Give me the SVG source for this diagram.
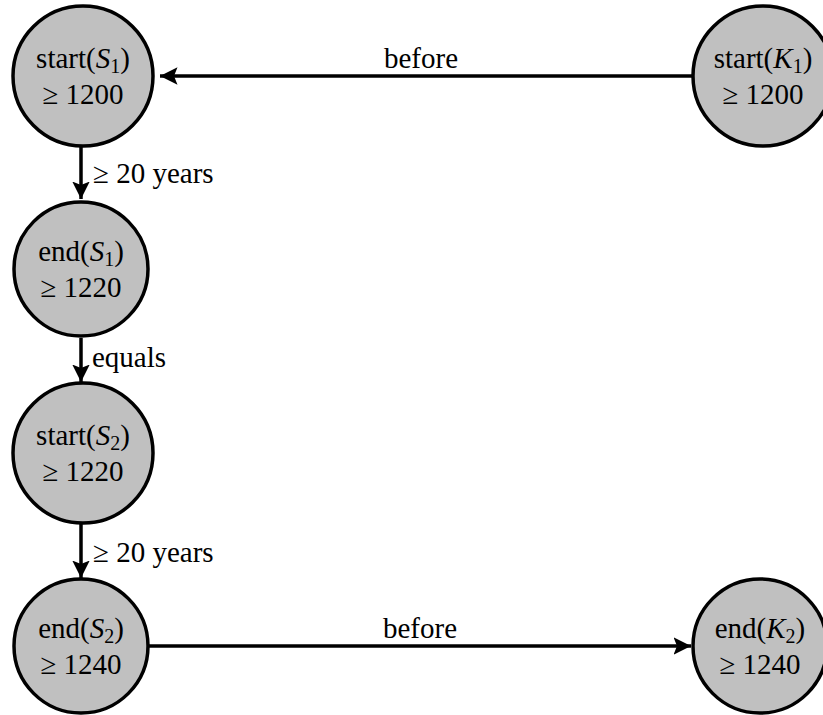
<svg xmlns="http://www.w3.org/2000/svg" width="823" height="715" viewBox="0 0 823 715">
<style>
.node circle{fill:#c0c0c0;stroke:#000;stroke-width:3.5}
text{font-family:"Liberation Serif","Times New Roman",serif;font-size:29px;fill:#000}
.nt{text-anchor:middle}
.it{font-style:italic}
.sub{font-size:20px}
.edge{stroke:#000;stroke-width:3.5;fill:none}
</style>
<defs>
<marker id="ah" viewBox="0 0 10 10" refX="10" refY="5" markerWidth="5" markerHeight="5" markerUnits="strokeWidth" orient="auto">
<path d="M0,0 L10,5 L0,10 L2,5 z" fill="#000"/>
</marker>
</defs>
<rect width="823" height="715" fill="#fff"/>
<g id="connectors">
<line class="edge" x1="692" y1="76" x2="160" y2="76" marker-end="url(#ah)"/>
<text x="421" y="68" class="nt">before</text>
<line class="edge" x1="81" y1="147" x2="81" y2="199" marker-end="url(#ah)"/>
<text x="93" y="183">≥ 20 years</text>
<line class="edge" x1="81" y1="338" x2="81" y2="382" marker-end="url(#ah)"/>
<text x="92" y="367">equals</text>
<line class="edge" x1="81" y1="523" x2="81" y2="578" marker-end="url(#ah)"/>
<text x="93" y="562">≥ 20 years</text>
<line class="edge" x1="148" y1="646" x2="691" y2="646" marker-end="url(#ah)"/>
<text x="420" y="638" class="nt">before</text>
</g>
<g id="startS1" class="node">
<circle cx="83" cy="76" r="70"/>
<text x="83" y="68" class="nt">start(<tspan class="it">S</tspan><tspan class="sub" dy="5">1</tspan><tspan dy="-5">)</tspan></text>
<text x="83" y="104" class="nt">≥ 1200</text>
</g>
<g id="startK1" class="node">
<circle cx="763" cy="76" r="70"/>
<text x="763" y="68" class="nt">start(<tspan class="it">K</tspan><tspan class="sub" dy="5">1</tspan><tspan dy="-5">)</tspan></text>
<text x="763" y="104" class="nt">≥ 1200</text>
</g>
<g id="endS1" class="node">
<circle cx="81" cy="269" r="67"/>
<text x="81" y="261" class="nt">end(<tspan class="it">S</tspan><tspan class="sub" dy="5">1</tspan><tspan dy="-5">)</tspan></text>
<text x="81" y="297" class="nt">≥ 1220</text>
</g>
<g id="startS2" class="node">
<circle cx="83" cy="453" r="70"/>
<text x="83" y="445" class="nt">start(<tspan class="it">S</tspan><tspan class="sub" dy="5">2</tspan><tspan dy="-5">)</tspan></text>
<text x="83" y="481" class="nt">≥ 1220</text>
</g>
<g id="endS2" class="node">
<circle cx="81" cy="646" r="67"/>
<text x="81" y="638" class="nt">end(<tspan class="it">S</tspan><tspan class="sub" dy="5">2</tspan><tspan dy="-5">)</tspan></text>
<text x="81" y="674" class="nt">≥ 1240</text>
</g>
<g id="endK2" class="node">
<circle cx="760" cy="646" r="67"/>
<text x="760" y="638" class="nt">end(<tspan class="it">K</tspan><tspan class="sub" dy="5">2</tspan><tspan dy="-5">)</tspan></text>
<text x="760" y="674" class="nt">≥ 1240</text>
</g>
</svg>
